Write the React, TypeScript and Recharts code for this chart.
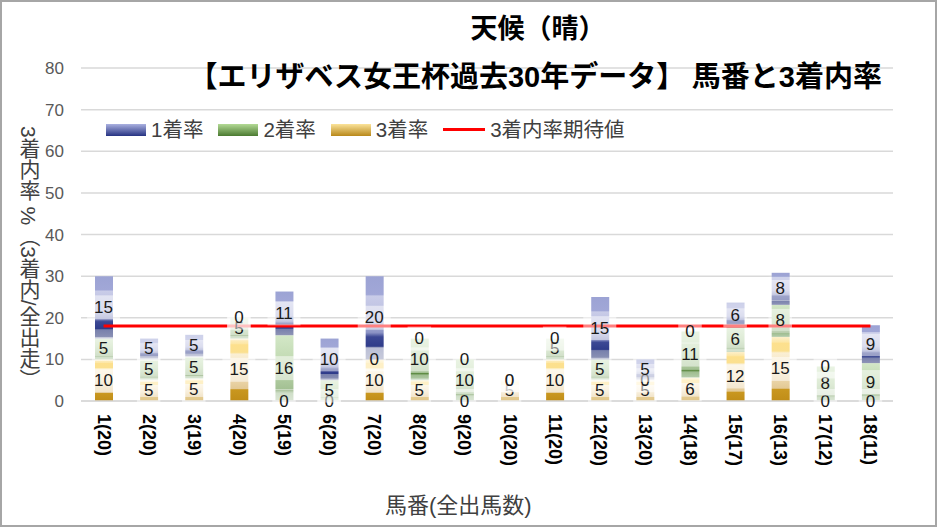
import { Bar, CartesianGrid, ComposedChart, LabelList, Line, XAxis, YAxis } from "recharts";

// 馬番(全出馬数)
const categories = [
  "1(20)", "2(20)", "3(19)", "4(20)", "5(19)", "6(20)", "7(20)", "8(20)", "9(20)",
  "10(20)", "11(20)", "12(20)", "13(20)", "14(18)", "15(17)", "16(13)", "17(12)", "18(11)",
];
// 1着率 / 2着率 / 3着率 (%)
const winRate = [15, 5, 5.3, 0, 10.5, 10, 20, 0, 0, 0, 0, 15, 5, 0, 5.9, 7.7, 0, 9.1];
const secondRate = [5, 5, 5.3, 5, 15.8, 5, 0, 10, 10, 0, 5, 5, 0, 11.1, 5.9, 7.7, 8.3, 9.1];
const thirdRate = [10, 5, 5.3, 15, 0, 0, 10, 5, 0, 5, 10, 5, 5, 5.6, 11.8, 15.4, 0, 0];
// 3着内率期待値
const expectedRate = [18, 18, 18, 18, 18, 18, 18, 18, 18, 18, 18, 18, 18, 18, 18, 18, 18, 18];
const yTicks = [0, 10, 20, 30, 40, 50, 60, 70, 80];

// label anchors sit in the middle of each stacked segment
const data = categories.map((name, i) => ({
  name,
  win: winRate[i],
  second: secondRate[i],
  third: thirdRate[i],
  expected: expectedRate[i],
  mid3: thirdRate[i] / 2,
  mid2: thirdRate[i] + secondRate[i] / 2,
  mid1: thirdRate[i] + secondRate[i] + winRate[i] / 2,
}));

const LATIN = "'Liberation Sans', 'Noto Sans CJK JP', sans-serif";
const CJK = "'Noto Sans CJK JP', 'Liberation Sans', sans-serif";

function makeLabel(values: number[]) {
  return function SegmentLabel(props: any) {
    const { x, y, index } = props;
    if (x == null || y == null) return null;
    const text = String(Math.round(values[index]));
    const w = text.length * 9.5 + 14;
    return (
      <g>
        <rect x={x - w / 2} y={y - 12} width={w} height={24} fill="#ffffff" fillOpacity={0.5} />
        <text x={x} y={y} textAnchor="middle" dominantBaseline="central" fontSize={17} fontFamily={LATIN} fill="#1a1a1a">
          {text}
        </text>
      </g>
    );
  };
}

const ThirdLabel = makeLabel(thirdRate);
const SecondLabel = makeLabel(secondRate);
const WinLabel = makeLabel(winRate);

function HorseTick({ x, y, payload }: any) {
  return (
    <text
      x={x}
      y={y}
      transform={`rotate(90, ${x}, ${y})`}
      textAnchor="start"
      dominantBaseline="central"
      fontSize={18}
      fontWeight="bold"
      fontFamily={LATIN}
      fill="#000"
    >
      {payload.value}
    </text>
  );
}

function Swatch({ from, to }: { from: string; to: string }) {
  return <div style={{ width: 40, height: 12, background: `linear-gradient(${from}, ${to})` }} />;
}

export default function App() {
  return (
    <div style={{ position: "relative", width: 938, height: 528, background: "#fff", fontFamily: CJK }}>
      <style>{`body{margin:0}`}</style>
      <ComposedChart width={938} height={528} data={data} margin={{ top: 68, right: 45, bottom: 0, left: 0 }}>
        <defs>
          <linearGradient id="g1" x1="0" y1="0" x2="0" y2="1">
            <stop offset="0%" stopColor="#9ca3d4" />
            <stop offset="22%" stopColor="#a1a7d7" />
            <stop offset="24%" stopColor="#c9cce8" />
            <stop offset="55%" stopColor="#b6badd" />
            <stop offset="68%" stopColor="#8a92c4" />
            <stop offset="73%" stopColor="#3c4894" />
            <stop offset="84%" stopColor="#2f3c8a" />
            <stop offset="86%" stopColor="#7880ac" />
            <stop offset="100%" stopColor="#8e94b6" />
          </linearGradient>
          <linearGradient id="g2" x1="0" y1="0" x2="0" y2="1">
            <stop offset="0%" stopColor="#d3e7c7" />
            <stop offset="50%" stopColor="#bcd6ac" />
            <stop offset="82%" stopColor="#a3c093" />
            <stop offset="84%" stopColor="#5d8a42" />
            <stop offset="88%" stopColor="#9fbd90" />
            <stop offset="100%" stopColor="#b4ccaa" />
          </linearGradient>
          <linearGradient id="g3" x1="0" y1="0" x2="0" y2="1">
            <stop offset="0%" stopColor="#fcefcb" />
            <stop offset="8%" stopColor="#fde7a6" />
            <stop offset="10%" stopColor="#fde08d" />
            <stop offset="22%" stopColor="#fbe08f" />
            <stop offset="25%" stopColor="#faefd4" />
            <stop offset="55%" stopColor="#f2e0bb" />
            <stop offset="80%" stopColor="#e3c995" />
            <stop offset="82%" stopColor="#c9971f" />
            <stop offset="100%" stopColor="#c08d18" />
          </linearGradient>
        </defs>
        <CartesianGrid vertical={false} stroke="#d9d9d9" strokeWidth={1.5} />
        <XAxis
          dataKey="name"
          interval={0}
          height={127}
          axisLine={{ stroke: "#d9d9d9", strokeWidth: 1.5 }}
          tickLine={false}
          tickMargin={7}
          tick={<HorseTick />}
        />
        <YAxis
          domain={[0, 80]}
          ticks={yTicks}
          width={81}
          axisLine={false}
          tickLine={false}
          tickMargin={11}
          tick={{ fontSize: 17, fill: "#595959", fontFamily: LATIN }}
        />
        <Bar dataKey="third" stackId="a" fill="url(#g3)" barSize={18} isAnimationActive={false} />
        <Bar dataKey="second" stackId="a" fill="url(#g2)" barSize={18} isAnimationActive={false} />
        <Bar dataKey="win" stackId="a" fill="url(#g1)" barSize={18} isAnimationActive={false} />
        <Line dataKey="expected" stroke="#ff0000" strokeWidth={3} dot={false} activeDot={false} isAnimationActive={false} />
        <Line dataKey="mid3" stroke="none" dot={false} activeDot={false} legendType="none" isAnimationActive={false}>
          <LabelList dataKey="mid3" content={<ThirdLabel />} />
        </Line>
        <Line dataKey="mid2" stroke="none" dot={false} activeDot={false} legendType="none" isAnimationActive={false}>
          <LabelList dataKey="mid2" content={<SecondLabel />} />
        </Line>
        <Line dataKey="mid1" stroke="none" dot={false} activeDot={false} legendType="none" isAnimationActive={false}>
          <LabelList dataKey="mid1" content={<WinLabel />} />
        </Line>
      </ComposedChart>

      <div style={{ position: "absolute", top: 8, left: 0, width: 1076, textAlign: "center", fontSize: 27, fontWeight: "bold", lineHeight: "37px", color: "#000" }}>
        天候（晴）
      </div>
      <div style={{ position: "absolute", top: 55, right: 56, whiteSpace: "nowrap", fontSize: 29, fontWeight: "bold", lineHeight: "38px", color: "#000" }}>
        【エリザベス女王杯過去<span style={{ fontFamily: LATIN }}>30</span>年データ】 馬番と<span style={{ fontFamily: LATIN }}>3</span>着内率
      </div>

      <div style={{ position: "absolute", top: 117, left: 106, display: "flex", alignItems: "center", fontSize: 20.5, lineHeight: "25px", color: "#404040", fontFamily: LATIN, whiteSpace: "nowrap" }}>
        <Swatch from="#aab1e0" to="#263382" />
        <span style={{ marginLeft: 5, marginRight: 15 }}>1着率</span>
        <Swatch from="#b3da95" to="#4b7a31" />
        <span style={{ marginLeft: 5, marginRight: 15 }}>2着率</span>
        <Swatch from="#fbe39a" to="#b8881a" />
        <span style={{ marginLeft: 5, marginRight: 15 }}>3着率</span>
        <div style={{ width: 42, height: 3, background: "#ff0000" }} />
        <span style={{ marginLeft: 5 }}>3着内率期待値</span>
      </div>

      <div style={{ position: "absolute", top: 126, left: 16, writingMode: "vertical-rl", fontSize: 21, lineHeight: "24px", color: "#404040", fontFamily: LATIN, whiteSpace: "nowrap" }}>
        3着内率 %（3着内/全出走）
      </div>
      <div style={{ position: "absolute", top: 492, left: 385, fontSize: 22, lineHeight: "28px", color: "#404040", fontFamily: LATIN, whiteSpace: "nowrap" }}>
        馬番(全出馬数)
      </div>

      <div style={{ position: "absolute", left: 0, top: 0, width: 937, height: 527, boxSizing: "border-box", border: "2px solid #a6a6a6", pointerEvents: "none" }} />
    </div>
  );
}
